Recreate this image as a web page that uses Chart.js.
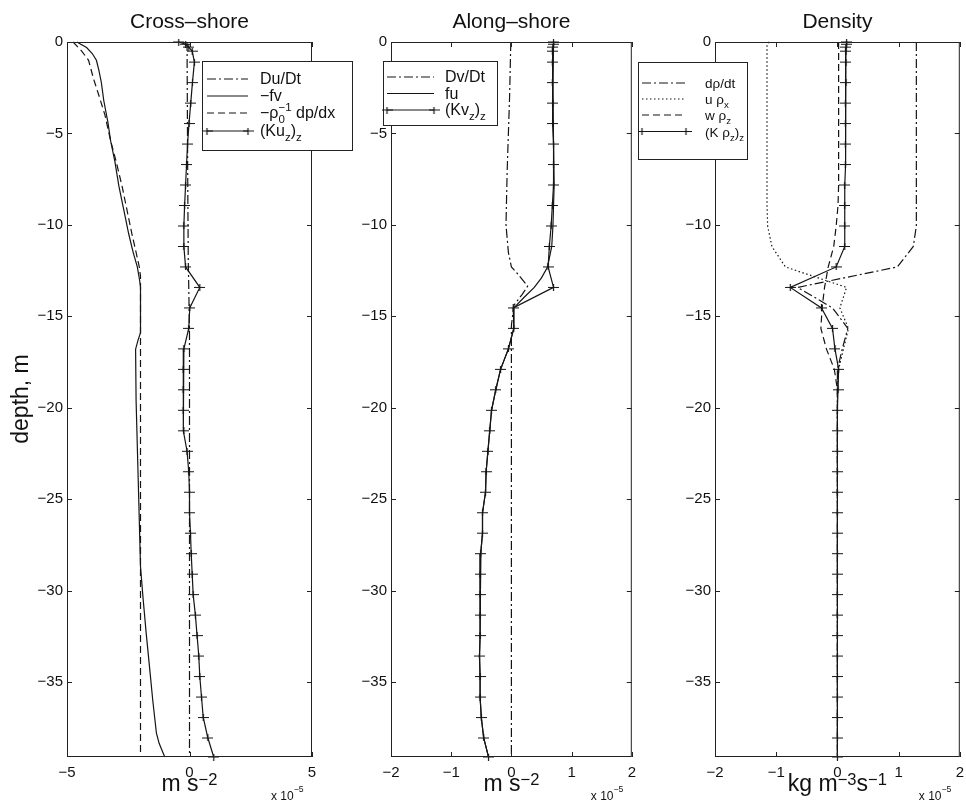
<!DOCTYPE html>
<html>
<head>
<meta charset="utf-8">
<script src="https://cdn.jsdelivr.net/npm/chart.js@4.4.1/dist/chart.umd.min.js"></script>
<style>
  html, body { margin: 0; padding: 0; background: #fff; }
  #wrap { position: relative; width: 966px; height: 804px; overflow: hidden; }
  canvas { position: absolute; top: 0; }
</style>
</head>
<body>
<div id="wrap">
  <canvas id="cross" width="360" height="804" style="left:0px"></canvas>
  <canvas id="along" width="318" height="804" style="left:320px"></canvas>
  <canvas id="dens" width="328" height="804" style="left:638px"></canvas>
</div>
<script>
// ---- data (all terms in units of 1e-5) ----
const yTicks = [0, -5, -10, -15, -20, -25, -30, -35]
const xTicksCross = [-5, 0, 5]
const xTicksNarrow = [-2, -1, 0, 1, 2]

// model grid levels (m), where the (K..)z terms are marked
const gridDepth = [0, -0.12, -0.28, -0.5, -1.1, -2.22, -3.34, -4.46, -5.58, -6.7, -7.82, -8.94, -10.06, -11.18, -12.3, -13.42, -14.54, -15.66, -16.78, -17.9, -19.02, -20.14, -21.26, -22.38, -23.5, -24.62, -25.74, -26.86, -27.98, -29.1, -30.22, -31.34, -32.46, -33.58, -34.7, -35.82, -36.94, -38.06, -39.1]

// Cross-shore (m s^-2)
const duDtDepth = [0, -3, -8, -12, -13.4, -16, -39.1]
const duDt = [-0.1, -0.09, -0.07, -0.05, -0.03, 0.0, 0.0]
const fvDepth = [0, -0.3, -0.63, -1.0, -1.54, -2.2, -3.2, -4.4, -5.4, -6.5, -7.9, -9.2, -10.5, -11.5, -12.3, -13.0, -13.4, -14.5, -15.9, -16.3, -16.8, -19.6, -25.1, -28.7, -30.5, -32.3, -34.2, -36.0, -37.8, -38.35, -39.1]
const fv = [-4.6, -4.2, -3.97, -3.8, -3.7, -3.6, -3.5, -3.33, -3.22, -3.05, -2.88, -2.68, -2.48, -2.3, -2.13, -2.04, -2.0, -2.0, -2.0, -2.1, -2.2, -2.18, -2.07, -2.0, -1.89, -1.77, -1.63, -1.5, -1.35, -1.24, -1.01]
const dpdxDepth = [0, -0.5, -1.0, -2.0, -3.0, -4.0, -5.4, -6.5, -7.9, -9.2, -10.5, -11.5, -12.3, -12.8, -39.1]
const dpdx = [-4.75, -4.4, -4.12, -3.92, -3.68, -3.45, -3.22, -3.0, -2.75, -2.55, -2.35, -2.18, -2.05, -2.0, -2.0]
const kuzz = [-0.44, -0.16, -0.03, 0.11, 0.2, 0.12, 0.05, -0.02, -0.08, -0.12, -0.16, -0.2, -0.23, -0.23, -0.16, 0.42, 0.01, -0.03, -0.23, -0.26, -0.26, -0.26, -0.23, -0.1, -0.03, 0.0, 0.0, 0.04, 0.07, 0.11, 0.15, 0.24, 0.31, 0.38, 0.42, 0.49, 0.56, 0.75, 0.99]

// Along-shore (m s^-2)
const dvDtDepth = [0, -3, -7, -10, -11.5, -12.3, -12.66, -13.35, -13.8, -14.4, -15.5, -39.1]
const dvDt = [-0.01, -0.03, -0.07, -0.09, -0.05, 0.0, 0.1, 0.27, 0.18, 0.04, 0.0, 0.0]
const fuDepth = [0, -2.22, -5.58, -7.82, -8.94, -10.06, -11.18, -12.3, -12.9, -13.42, -14.0, -14.54, -15.66, -16.78, -17.9, -19.02, -20.14, -21.26, -22.38, -23.5, -24.62, -25.74, -26.86, -27.98, -29.1, -30.22, -31.34, -32.46, -33.58, -34.7, -35.82, -36.94, -38.06, -39.1]
const fu = [0.7, 0.69, 0.7, 0.71, 0.7, 0.69, 0.67, 0.6, 0.5, 0.38, 0.2, 0.04, 0.04, -0.05, -0.18, -0.26, -0.33, -0.36, -0.39, -0.42, -0.43, -0.48, -0.48, -0.51, -0.52, -0.52, -0.52, -0.52, -0.53, -0.52, -0.52, -0.5, -0.46, -0.38]
const kvzz = [0.7, 0.7, 0.69, 0.68, 0.68, 0.68, 0.69, 0.69, 0.7, 0.7, 0.7, 0.68, 0.66, 0.63, 0.61, 0.7, 0.03, 0.04, -0.05, -0.18, -0.26, -0.33, -0.36, -0.39, -0.42, -0.43, -0.48, -0.48, -0.51, -0.52, -0.52, -0.52, -0.52, -0.53, -0.52, -0.52, -0.5, -0.46, -0.38]

// Density (kg m^-3 s^-1), on the grid levels
const drhoDt = [1.29, 1.29, 1.29, 1.29, 1.29, 1.29, 1.29, 1.29, 1.29, 1.29, 1.29, 1.29, 1.29, 1.24, 0.98, -0.65, -0.08, 0.17, 0.08, 0.0, 0, 0, 0, 0, 0, 0, 0, 0, 0, 0, 0, 0, 0, 0, 0, 0, 0, 0, 0]
const uRhoX = [-1.12, -1.15, -1.15, -1.15, -1.15, -1.15, -1.15, -1.15, -1.15, -1.15, -1.15, -1.15, -1.14, -1.07, -0.85, 0.15, 0.04, 0.18, 0.1, 0.02, 0, 0, 0, 0, 0, 0, 0, 0, 0, 0, 0, 0, 0, 0, 0, 0, 0, 0, 0]
const wRhoZ = [0.02, 0.02, 0.02, 0.02, 0.02, 0.02, 0.02, 0.02, 0.02, 0.02, 0.02, 0.01, -0.02, -0.06, -0.15, -0.21, -0.25, -0.27, -0.18, -0.05, 0, 0, 0, 0, 0, 0, 0, 0, 0, 0, 0, 0, 0, 0, 0, 0, 0, 0, 0]
const kRhozz = [0.15, 0.15, 0.14, 0.14, 0.14, 0.14, 0.13, 0.13, 0.13, 0.13, 0.12, 0.12, 0.12, 0.12, -0.02, -0.77, -0.26, -0.08, -0.04, 0.02, 0.01, 0, 0, 0, 0, 0, 0, 0, 0, 0, 0, 0, 0, 0, 0, 0, 0, 0, 0]

// ---- styling ----
const INK = "#141414"
const FONT = '"Liberation Sans", Arial, Helvetica, sans-serif'
const DASH = { solid: [], plus: [], dashed: [7, 4], dotted: [1.5, 2.5], dashdot: [9, 3, 2, 3] }

const plusMark = (() => {
  const c = document.createElement("canvas")
  c.width = 11
  c.height = 7
  const g = c.getContext("2d")
  g.strokeStyle = INK
  g.lineWidth = 1.2
  g.beginPath()
  g.moveTo(0, 3.5); g.lineTo(11, 3.5)
  g.moveTo(5.5, 0); g.lineTo(5.5, 7)
  g.stroke()
  return c
})()

function series(depths, values, style) {
  const plus = style === "plus"
  return {
    data: depths.map((d, i) => ({ x: values[i], y: d })),
    showLine: true,
    borderColor: INK,
    borderWidth: 1.2,
    borderDash: DASH[style],
    pointRadius: plus ? 5 : 0,
    pointStyle: plus ? plusMark : "circle",
    pointHoverRadius: 0,
    tension: 0,
    fill: false,
    clip: 8
  }
}

// rich text with sub / superscripts: parts are [text, kind]
function partWidth(ctx, part, size) {
  const [text, kind] = part
  ctx.font = `${kind ? size * 0.72 : size}px ${FONT}`
  if (kind === "ss") return Math.max(ctx.measureText(text[0]).width, ctx.measureText(text[1]).width)
  return ctx.measureText(text).width
}

function drawRich(ctx, x, y, parts, size, align, raise) {
  let cx = x
  const up = raise ?? size * 0.4
  if (align === "center") cx -= parts.reduce((w, p) => w + partWidth(ctx, p, size), 0) / 2
  ctx.textAlign = "left"
  ctx.textBaseline = "alphabetic"
  for (const p of parts) {
    const [text, kind] = p
    const w = partWidth(ctx, p, size)
    if (kind === "ss") {
      ctx.fillText(text[0], cx, y + size * 0.3)
      ctx.fillText(text[1], cx, y - size * 0.42)
    } else if (kind === "sub") {
      ctx.fillText(text, cx, y + size * 0.3)
    } else if (kind === "sup") {
      ctx.fillText(text, cx, y - up)
    } else {
      ctx.fillText(text, cx, y)
    }
    cx += w
  }
}

function sample(ctx, x0, x1, y, style) {
  ctx.save()
  ctx.strokeStyle = INK
  ctx.lineWidth = 1.2
  ctx.setLineDash(DASH[style])
  ctx.beginPath()
  ctx.moveTo(x0, y)
  ctx.lineTo(x1, y)
  ctx.stroke()
  ctx.restore()
  if (style === "plus") {
    ctx.drawImage(plusMark, x0 - 5.5, y - 3.5)
    ctx.drawImage(plusMark, x1 - 5.5, y - 3.5)
  }
}

const panelDecor = {
  id: "panelDecor",
  afterDraw(chart, args, o) {
    const ctx = chart.ctx
    const { left, right, top, bottom } = chart.chartArea
    const xs = chart.scales.x
    const ys = chart.scales.y
    ctx.save()
    ctx.strokeStyle = "#222"
    ctx.lineWidth = 1
    ctx.strokeRect(left + 0.5, top + 0.5, right - left - 1, bottom - top - 1)

    // MATLAB style inward ticks on all four sides
    ctx.beginPath()
    o.xTicks.forEach(v => {
      const px = Math.round(xs.getPixelForValue(v)) + 0.5
      ctx.moveTo(px, bottom); ctx.lineTo(px, bottom - 5)
      ctx.moveTo(px, top); ctx.lineTo(px, top + 5)
    })
    yTicks.forEach(v => {
      const py = Math.round(ys.getPixelForValue(v)) + 0.5
      ctx.moveTo(left, py); ctx.lineTo(left + 5, py)
      ctx.moveTo(right, py); ctx.lineTo(right - 5, py)
    })
    ctx.stroke()

    ctx.fillStyle = "#111"
    const cx = (left + right) / 2
    ctx.font = `21px ${FONT}`
    ctx.textAlign = "center"
    ctx.textBaseline = "alphabetic"
    ctx.fillText(o.title, cx, 28)

    drawRich(ctx, cx, 791, o.xlabel, 23, "center", 6)
    drawRich(ctx, right - 41, 800, [["x 10"], ["\u22125", "sup"]], 12, null, 8)

    if (o.ylabel) {
      ctx.save()
      ctx.translate(28, 399)
      ctx.rotate(-Math.PI / 2)
      ctx.font = `23px ${FONT}`
      ctx.textAlign = "center"
      ctx.fillText(o.ylabel, 0, 0)
      ctx.restore()
    }

    // legend box
    const L = o.legend
    const [bx0, by0, bx1, by1] = L.box.map((v, i) => i % 2 === 0 ? v - o.offset : v)
    ctx.fillStyle = "#fff"
    ctx.fillRect(bx0, by0, bx1 - bx0, by1 - by0)
    ctx.strokeStyle = "#222"
    ctx.strokeRect(bx0 + 0.5, by0 + 0.5, bx1 - bx0, by1 - by0)
    ctx.fillStyle = "#111"
    L.rows.forEach((row, i) => {
      const y = L.rowY[i]
      sample(ctx, L.sampleX[0] - o.offset, L.sampleX[1] - o.offset, y, row.style)
      drawRich(ctx, L.textX - o.offset, y + 5, row.text, L.size)
    })
    ctx.restore()
  }
}

const tickFmt = v => v === 0 ? "0" : (v < 0 ? "\u2212" + Math.abs(v) : String(v))

function makePanel(id, cfg) {
  return new Chart(document.getElementById(id).getContext("2d"), {
    type: "scatter",
    data: { datasets: cfg.datasets },
    plugins: [panelDecor],
    options: {
      responsive: false,
      animation: false,
      devicePixelRatio: 1,
      events: [],
      layout: { padding: { left: 0, right: cfg.padRight, top: 42, bottom: 0 } },
      plugins: {
        legend: { display: false },
        tooltip: { enabled: false },
        panelDecor: cfg.decor
      },
      scales: {
        x: {
          type: "linear",
          min: cfg.xMin,
          max: cfg.xMax,
          afterBuildTicks: s => { s.ticks = cfg.decor.xTicks.map(v => ({ value: v })) },
          afterFit: s => { s.height = 47; s.paddingLeft = 0; s.paddingRight = 0 },
          grid: { display: false, drawTicks: false },
          border: { display: false },
          ticks: { padding: 7, color: "#111", font: { family: FONT, size: 15 }, maxRotation: 0, autoSkip: false, callback: tickFmt }
        },
        y: {
          type: "linear",
          min: -39.1,
          max: 0,
          afterBuildTicks: s => { s.ticks = yTicks.map(v => ({ value: v })) },
          afterFit: s => { s.width = cfg.yWidth; s.paddingTop = 0; s.paddingBottom = 0 },
          grid: { display: false, drawTicks: false },
          border: { display: false },
          ticks: { padding: 4, color: "#111", font: { family: FONT, size: 15 }, autoSkip: false, callback: tickFmt }
        }
      }
    }
  })
}

const msLabel = [["m s"], ["\u22122", "sup"]]

makePanel("cross", {
  xMin: -5, xMax: 5, yWidth: 67, padRight: 48,
  datasets: [
    series(duDtDepth, duDt, "dashdot"),
    series(fvDepth, fv, "solid"),
    series(dpdxDepth, dpdx, "dashed"),
    series(gridDepth, kuzz, "plus")
  ],
  decor: {
    offset: 0, title: "Cross\u2013shore", xTicks: xTicksCross, xlabel: msLabel, ylabel: "depth, m",
    legend: {
      box: [202, 61, 352, 150], sampleX: [207, 248], textX: 260, rowY: [79, 96, 113, 131], size: 16,
      rows: [
        { style: "dashdot", text: [["Du/Dt"]] },
        { style: "solid", text: [["\u2212fv"]] },
        { style: "dashed", text: [["\u2212\u03c1"], [["0", "\u22121"], "ss"], [" dp/dx"]] },
        { style: "plus", text: [["(Ku"], ["z", "sub"], [")"], ["z", "sub"]] }
      ]
    }
  }
})

makePanel("along", {
  xMin: -2, xMax: 2, yWidth: 71, padRight: 2,
  datasets: [
    series(dvDtDepth, dvDt, "dashdot"),
    series(fuDepth, fu, "solid"),
    series(gridDepth, kvzz, "plus")
  ],
  decor: {
    offset: 320, title: "Along\u2013shore", xTicks: xTicksNarrow, xlabel: msLabel,
    legend: {
      box: [383, 61, 497, 125], sampleX: [387, 434], textX: 445, rowY: [77, 93.5, 110], size: 16,
      rows: [
        { style: "dashdot", text: [["Dv/Dt"]] },
        { style: "solid", text: [["fu"]] },
        { style: "plus", text: [["(Kv"], ["z", "sub"], [")"], ["z", "sub"]] }
      ]
    }
  }
})

makePanel("dens", {
  xMin: -2, xMax: 2, yWidth: 77, padRight: 4,
  datasets: [
    series(gridDepth, drhoDt, "dashdot"),
    series(gridDepth, uRhoX, "dotted"),
    series(gridDepth, wRhoZ, "dashed"),
    series(gridDepth, kRhozz, "plus")
  ],
  decor: {
    offset: 638, title: "Density", xTicks: xTicksNarrow,
    xlabel: [["kg m"], ["\u22123", "sup"], ["s"], ["\u22121", "sup"]],
    legend: {
      box: [638, 62, 747, 159], sampleX: [642, 686], textX: 705, rowY: [83, 99, 115, 131.5], size: 13.5,
      rows: [
        { style: "dashdot", text: [["d\u03c1/dt"]] },
        { style: "dotted", text: [["u \u03c1"], ["x", "sub"]] },
        { style: "dashed", text: [["w \u03c1"], ["z", "sub"]] },
        { style: "plus", text: [["(K \u03c1"], ["z", "sub"], [")"], ["z", "sub"]] }
      ]
    }
  }
})
</script>
</body>
</html>
